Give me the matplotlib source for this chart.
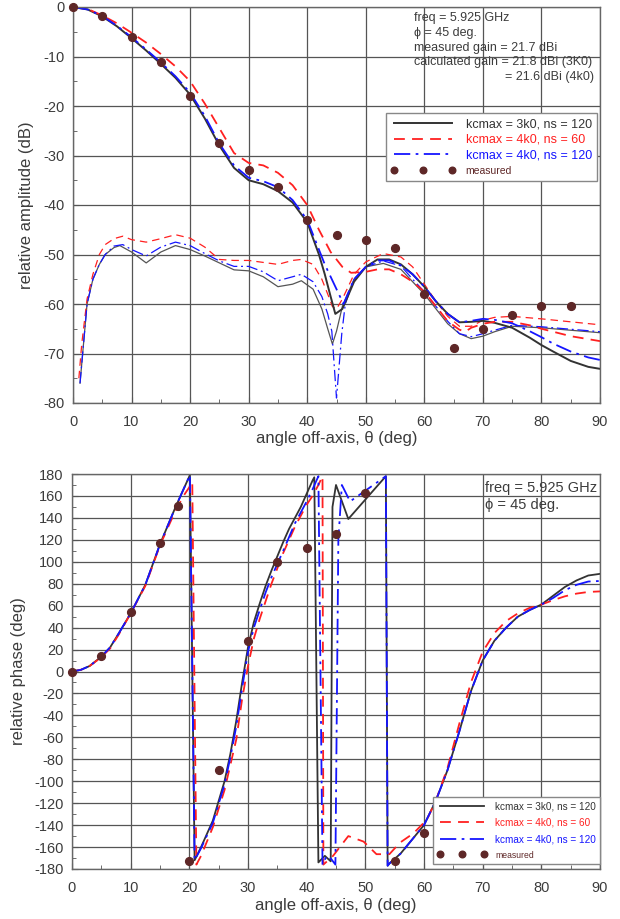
import matplotlib
matplotlib.use("Agg")
import matplotlib.pyplot as plt
from matplotlib.ticker import MultipleLocator

plt.rcParams['font.family'] = ['Liberation Sans', 'DejaVu Sans']
plt.rcParams['axes.unicode_minus'] = False

# ---------------- amplitude: co-pol (main beam) ----------------
th_main_3k0 = [0, 2.5, 5, 7.5, 10, 12.5, 15, 17.5, 20, 22.5, 25, 27.5, 30, 32.5, 35, 37.5, 40, 42, 43, 44, 44.8,
               46, 48, 50, 52, 54, 56, 58, 60, 62, 64, 66, 68, 70, 72, 75, 78, 80, 82, 85, 88, 90]
amp_main_3k0 = [0, -0.5, -1.9, -3.9, -6.3, -8.8, -11.5, -14.3, -17.7, -22.5, -28.0, -32.5, -35.0, -35.8, -37.2,
                -39.5, -43.5, -50.0, -54.0, -58.5, -62.0, -61.0, -55.5, -52.5, -51.0, -51.0, -52.0, -54.0, -56.5,
                -59.5, -62.0, -63.7, -63.6, -63.4, -63.8, -64.8, -66.8, -68.3, -69.6, -71.5, -72.7, -73.1]

th_main_4k0_60 = [0, 2.5, 5, 7.5, 10, 12.5, 15, 17.5, 20, 22.5, 25, 27.5, 30, 32.5, 35, 37.5, 40, 42, 44, 46, 47.5,
                  50, 52, 54, 56, 58, 60, 62, 64, 66, 67, 68, 70, 72, 75, 78, 80, 82, 85, 88, 90]
amp_main_4k0_60 = [0, -0.4, -1.7, -3.3, -5.2, -7.2, -9.5, -12.0, -15.0, -19.5, -24.5, -29.5, -31.5, -32.0, -33.5,
                   -36.0, -40.0, -45.0, -49.5, -52.5, -53.7, -53.5, -53.0, -53.0, -54.0, -55.5, -57.5, -60.5, -63.5,
                   -65.2, -65.6, -64.8, -64.0, -63.6, -63.6, -64.3, -65.0, -65.6, -66.5, -67.1, -67.5]

th_main_4k0_120 = [0, 2.5, 5, 7.5, 10, 12.5, 15, 17.5, 20, 22.5, 25, 27.5, 30, 32.5, 35, 37.5, 40, 42, 43, 44.8,
                   46.2, 48, 50, 52, 54, 56, 58, 60, 62, 64, 66, 68, 70, 72, 75, 78, 80, 82, 85, 88, 90]
amp_main_4k0_120 = [0, -0.5, -1.8, -3.8, -6.1, -8.6, -11.2, -14.0, -17.3, -22.0, -27.6, -32.0, -34.5, -35.2, -36.4,
                    -39.0, -43.0, -49.0, -52.0, -56.5, -60.0, -55.0, -52.5, -51.2, -51.2, -52.2, -54.0, -56.5, -59.5,
                    -62.0, -63.7, -63.4, -63.0, -63.2, -63.9, -65.5, -66.7, -68.0, -69.6, -70.8, -71.3]

# ---------------- amplitude: cross-pol ----------------
th_xp_3k0 = [1.2, 1.65, 2.4, 3.4, 4.5, 5.5, 7, 8, 10, 12.5, 15, 17.5, 20, 22.5, 25, 27.5, 30, 32.5, 35, 37.5, 39,
             41, 42.5, 43.5, 44.3, 45, 46, 48, 50, 53, 56, 58, 60, 62, 64, 66, 68, 70, 72, 75, 80, 85, 90]
amp_xp_3k0 = [-76.0, -70.0, -60.0, -55.0, -52.0, -50.0, -48.6, -48.2, -49.5, -51.7, -49.5, -48.2, -49.0, -50.3,
              -51.7, -53.1, -53.3, -54.5, -56.5, -56.0, -55.3, -57.0, -61.0, -65.0, -68.1, -65.5, -60.5, -55.0,
              -52.5, -51.8, -53.0, -55.5, -58.0, -61.0, -64.0, -66.0, -67.0, -66.5, -65.6, -64.5, -64.8, -65.3,
              -65.8]

th_xp_4k0_60 = [1.0, 1.5, 2.4, 3.4, 4.5, 5.5, 7, 8.5, 10, 12.5, 15, 17.5, 20, 22.5, 25, 27.5, 30, 32.5, 35, 37.5,
                39, 41, 42.5, 43.5, 44.3, 45, 46, 48, 50, 53, 56, 58, 60, 62, 64, 66, 68, 70, 72, 75, 80, 85, 90]
amp_xp_4k0_60 = [-75.0, -68.0, -59.0, -54.0, -50.0, -48.0, -46.8, -46.3, -47.0, -47.5, -46.8, -46.0, -46.7,
                 -48.5, -51.0, -51.2, -51.2, -51.6, -52.0, -51.2, -51.0, -52.0, -55.0, -58.0, -60.5, -61.0, -59.0,
                 -54.0, -51.5, -49.8, -50.5, -52.5, -56.0, -59.5, -62.5, -64.5, -64.5, -63.3, -62.7, -62.5, -63.0,
                 -63.6, -64.2]

th_xp_4k0_120 = [1.2, 1.65, 2.4, 3.4, 4.5, 5.5, 7, 8.5, 10, 12.5, 15, 17.5, 20, 22.5, 25, 27.5, 30, 32.5, 35, 37.5,
                 39, 41, 42.5, 43.5, 44.2, 45, 45.9, 46.5, 48, 50, 53, 56, 58, 60, 62, 64, 66, 68, 70, 72, 75, 80,
                 85, 90]
amp_xp_4k0_120 = [-76.0, -70.0, -60.0, -55.0, -52.0, -50.0, -48.3, -48.0, -49.0, -50.3, -48.5, -47.5, -48.2,
                  -49.8, -51.3, -52.4, -52.4, -53.5, -55.3, -54.5, -54.0, -55.5, -58.5, -62.0, -65.5, -79.0, -66.0,
                  -60.0, -55.0, -52.5, -51.3, -52.3, -55.0, -57.5, -60.5, -63.5, -66.0, -66.6, -66.0, -65.3, -64.3,
                  -64.6, -65.1, -65.6]

# ---------------- measured ----------------
th_meas_amp = [0, 5, 10, 15, 20, 25, 30, 35, 40, 45, 50, 55, 60, 65, 70, 75, 80, 85]
amp_meas = [0, -1.8, -6.1, -11.1, -18.0, -27.5, -32.9, -36.3, -43.0, -46.0, -47.0, -48.7, -58.0, -68.9, -65.0,
            -62.2, -60.4, -60.4]

# ---------------- phase ----------------
th_ph_3k0 = [0, 1.5, 3, 5, 6.5, 8, 10, 12.5, 15, 17.5, 19, 20.1, 20.9, 22, 24, 26, 27, 28, 29, 30, 31, 32, 33, 34,
             35, 36, 37, 38, 39, 40, 41, 41.3, 42.0, 43.1, 44.1, 44.4, 45.0, 47.1, 53.5, 53.8, 54.1, 56, 58, 60,
             62, 64, 66, 68, 70, 72, 74, 76, 78, 80, 82, 84, 86, 88, 90]
ph_3k0 = [0, 1.5, 5, 13.5, 22, 35, 53, 79, 116, 148, 166, 179, -172, -160, -136, -100, -75, -45, -10, 22, 45, 62,
          78, 92, 105, 118, 130, 140, 150, 162, 174, 177, -174, -168, -173, 150, 170, 139, 178, -177, -175,
          -166, -153, -140, -118, -90, -55, -18, 10, 28, 40, 50, 56, 61, 69, 77, 83, 87.5, 89]

th_ph_4k0_60 = [0, 1.5, 3, 5, 6.5, 8, 10, 12.5, 15, 17.5, 19, 20, 20.5, 21.2, 22, 24, 26, 28, 29, 30, 31, 32, 34,
                36, 38, 40, 41, 42, 42.7, 42.85, 44.5, 47.1, 49.7, 51.9, 54.1, 55.9, 58.2, 60.5, 62, 64, 66, 68,
                70, 72, 74, 76, 78, 80, 82, 84, 86, 88, 90]
ph_4k0_60 = [0, 1.5, 5, 13, 21, 34, 53, 78, 115, 145, 160, 168, 173, -176, -168, -142, -108, -62, -25, 5, 30, 48,
             80, 108, 132, 152, 160, 170, 178, -176, -168, -150, -155, -166.5, -166.5, -156, -147.5, -135, -118,
             -88, -48, -10, 18, 35, 46, 53, 58, 61, 65, 68.5, 71, 72.5, 73]

th_ph_4k0_120 = [0, 1.5, 3, 5, 6.5, 8, 10, 12.5, 15, 17.5, 19, 20.1, 20.9, 22, 24, 26, 27, 28, 29, 30, 31, 32, 33,
                 34, 35, 36, 38, 40, 41, 42, 42.7, 43.4, 44.2, 44.9, 45.4, 46.0, 47.4, 53.5, 53.8, 54.1, 56, 58,
                 60, 62, 64, 66, 68, 70, 72, 74, 76, 78, 80, 82, 84, 86, 88, 90]
ph_4k0_120 = [0, 1.5, 5, 13.5, 22, 35, 53, 79, 116, 148, 166, 179, -172, -161, -138, -103, -78, -50, -15, 18, 40,
              56, 72, 86, 98, 110, 135, 155, 166, 178, -176, -168, -171, -176, 120, 170, 155, 178, -177, -175,
              -166, -153, -140, -118, -90, -55, -18, 10, 28, 40, 50, 56, 61, 67, 74, 79, 82, 82.5]

th_meas_ph = [0, 5, 10, 15, 18, 20, 25, 30, 35, 40, 45, 50, 55, 60]
ph_meas = [0, 14, 54.5, 117.4, 151, -172.7, -89.8, 28, 99.8, 112.8, 125.3, 162.7, -172.7, -147.5]

legend_labels = ["kcmax = 3k0, ns = 120", "kcmax = 4k0, ns = 60", "kcmax = 4k0, ns = 120", "measured"]
info_amp = ["freq = 5.925 GHz", "\u03d5 = 45 deg.", "measured gain = 21.7 dBi",
            "calculated gain = 21.8 dBi (3K0)", "= 21.6 dBi (4k0)"]
info_ph = ["freq = 5.925 GHz", "\u03d5 = 45 deg."]

# ---------------- styles ----------------
C_BLK = '#333333'
C_BLK_THIN = '#555555'
C_RED = '#ff2020'
C_BLU = '#1515ff'
C_MEAS = '#5e2727'
TXT = '#3c3c3c'
GRID = '#555555'

fig = plt.figure(figsize=(6.2, 9.19), dpi=100)
ax1 = fig.add_axes([73/620, 1-403/919, 527/620, 396/919])
ax2 = fig.add_axes([72/620, 1-869/919, 528/620, 395/919])


def style_axes(ax):
    ax.grid(True, which='major', color=GRID, lw=0.9)
    ax.set_axisbelow(True)
    for s in ax.spines.values():
        s.set_color('#666666')
        s.set_linewidth(1.0)
    ax.tick_params(which='both', direction='in', colors='#555555', labelcolor=TXT, labelsize=10.5)
    ax.tick_params(which='major', length=4)
    ax.tick_params(which='minor', length=3)
    ax.tick_params(axis='x', pad=9)
    ax.tick_params(axis='y', pad=6)
    ax.xaxis.set_major_locator(MultipleLocator(10))
    ax.xaxis.set_minor_locator(MultipleLocator(5))
    ax.set_xlim(0, 90)


dash_red = (0, (6, 4))
dash_blu = (0, (9, 3, 1.5, 3))

# ---- top: amplitude ----
style_axes(ax1)
ax1.set_ylim(-80, 0)
ax1.yaxis.set_major_locator(MultipleLocator(10))
ax1.yaxis.set_minor_locator(MultipleLocator(5))

ax1.plot(th_xp_3k0, amp_xp_3k0, color=C_BLK_THIN, lw=0.9)
ax1.plot(th_xp_4k0_60, amp_xp_4k0_60, color=C_RED, lw=0.9, ls=dash_red)
ax1.plot(th_xp_4k0_120, amp_xp_4k0_120, color=C_BLU, lw=0.9, ls=dash_blu)
l1, = ax1.plot(th_main_3k0, amp_main_3k0, color=C_BLK, lw=1.4)
l2, = ax1.plot(th_main_4k0_60, amp_main_4k0_60, color=C_RED, lw=1.3, ls=dash_red)
l3, = ax1.plot(th_main_4k0_120, amp_main_4k0_120, color=C_BLU, lw=1.3, ls=dash_blu)
l4, = ax1.plot(th_meas_amp, amp_meas, ls='none', marker='o', ms=5.6, color=C_MEAS, clip_on=False, zorder=5)

ax1.set_xlabel("angle off-axis, \u03b8 (deg)", fontsize=12, color=TXT, labelpad=1)
ax1.set_ylabel("relative amplitude (dB)", fontsize=12, color=TXT, labelpad=7)

leg1 = ax1.legend([l1, l2, l3, l4], legend_labels, loc='upper right', bbox_to_anchor=(0.994, 0.732),
                  borderaxespad=0, fontsize=9, handlelength=5.2, numpoints=3, fancybox=False, framealpha=1,
                  edgecolor='#888888', labelspacing=0.3, borderpad=0.4, handletextpad=0.8, markerscale=0.85)
leg1.get_frame().set_linewidth(1.0)
for t, c in zip(leg1.get_texts(), [C_BLK, C_RED, C_BLU, C_MEAS]):
    t.set_color(c)
leg1.get_texts()[3].set_fontsize(7.5)

ys = [0.972, 0.934, 0.896, 0.861]
for s, y in zip(info_amp[:4], ys):
    ax1.text(0.647, y, s, transform=ax1.transAxes, fontsize=9, color=TXT, va='center', ha='left')
ax1.text(0.988, 0.823, info_amp[4], transform=ax1.transAxes, fontsize=9, color=TXT, va='center', ha='right')

# ---- bottom: phase ----
style_axes(ax2)
ax2.set_ylim(-180, 180)
ax2.yaxis.set_major_locator(MultipleLocator(20))
ax2.yaxis.set_minor_locator(MultipleLocator(10))

m1, = ax2.plot(th_ph_3k0, ph_3k0, color=C_BLK, lw=1.3)
m2, = ax2.plot(th_ph_4k0_60, ph_4k0_60, color=C_RED, lw=1.3, ls=dash_red)
m3, = ax2.plot(th_ph_4k0_120, ph_4k0_120, color=C_BLU, lw=1.3, ls=dash_blu)
m4, = ax2.plot(th_meas_ph, ph_meas, ls='none', marker='o', ms=5.6, color=C_MEAS, clip_on=False, zorder=5)

ax2.set_xlabel("angle off-axis, \u03b8 (deg)", fontsize=12, color=TXT, labelpad=2)
ax2.set_ylabel("relative phase (deg)", fontsize=12, color=TXT, labelpad=6)

leg2 = ax2.legend([m1, m2, m3, m4], legend_labels, loc='lower right', bbox_to_anchor=(1.0, 0.013),
                  borderaxespad=0, fontsize=7.2, handlelength=5.0, numpoints=3, fancybox=False, framealpha=1,
                  edgecolor='#888888', labelspacing=0.65, borderpad=0.4, handletextpad=0.8, markerscale=0.85)
leg2.get_frame().set_linewidth(1.0)
for t, c in zip(leg2.get_texts(), [C_BLK, C_RED, C_BLU, C_MEAS]):
    t.set_color(c)
leg2.get_texts()[3].set_fontsize(6.2)

for s, y in zip(info_ph, [0.965, 0.922]):
    ax2.text(0.782, y, s, transform=ax2.transAxes, fontsize=10.5, color=TXT, va='center', ha='left')

fig.savefig("out.png", dpi=100)
